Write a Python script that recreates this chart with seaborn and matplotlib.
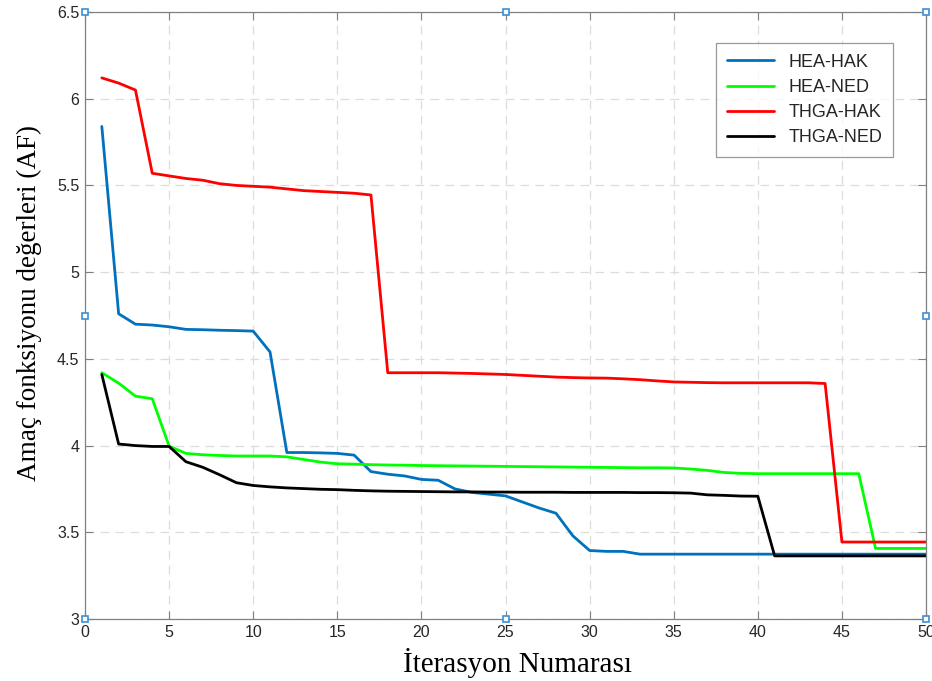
import numpy as np
import pandas as pd
import matplotlib
matplotlib.use("Agg")
import matplotlib.pyplot as plt
import seaborn as sns

# iterations 1..50
iterasyon = list(range(1, 51))

hea_hak = [5.84, 4.76, 4.70, 4.695, 4.685, 4.67, 4.668, 4.665, 4.663, 4.66,
           4.54, 3.96, 3.96, 3.958, 3.955, 3.945, 3.85, 3.835, 3.825, 3.805,
           3.80, 3.75, 3.73, 3.72, 3.71, 3.675, 3.64, 3.61, 3.48, 3.395,
           3.39, 3.39, 3.374, 3.374, 3.374, 3.374, 3.374, 3.374, 3.374, 3.374,
           3.374, 3.374, 3.374, 3.374, 3.374, 3.374, 3.374, 3.374, 3.374, 3.374]

hea_ned = [4.42, 4.36, 4.285, 4.27, 3.997, 3.955, 3.947, 3.943, 3.94, 3.94,
           3.94, 3.935, 3.92, 3.905, 3.895, 3.893, 3.89, 3.888, 3.887, 3.885,
           3.884, 3.883, 3.882, 3.881, 3.88, 3.879, 3.878, 3.877, 3.876, 3.875,
           3.874, 3.873, 3.872, 3.872, 3.871, 3.865, 3.857, 3.845, 3.84, 3.838,
           3.838, 3.838, 3.838, 3.838, 3.838, 3.838, 3.407, 3.407, 3.407, 3.407]

thga_hak = [6.12, 6.09, 6.05, 5.57, 5.555, 5.54, 5.53, 5.51, 5.50, 5.495,
            5.49, 5.48, 5.47, 5.465, 5.46, 5.455, 5.445, 4.42, 4.42, 4.42,
            4.42, 4.418, 4.416, 4.413, 4.41, 4.405, 4.40, 4.395, 4.392, 4.39,
            4.389, 4.385, 4.38, 4.373, 4.367, 4.365, 4.363, 4.362, 4.362, 4.362,
            4.362, 4.362, 4.362, 4.358, 3.444, 3.444, 3.444, 3.444, 3.444, 3.444]

thga_ned = [4.41, 4.009, 4.0, 3.995, 3.995, 3.907, 3.875, 3.832, 3.786, 3.77,
            3.762, 3.756, 3.752, 3.748, 3.746, 3.742, 3.739, 3.737, 3.736, 3.735,
            3.734, 3.733, 3.733, 3.732, 3.732, 3.731, 3.731, 3.731, 3.73, 3.73,
            3.73, 3.73, 3.729, 3.729, 3.728, 3.726, 3.716, 3.713, 3.709, 3.708,
            3.364, 3.364, 3.364, 3.364, 3.364, 3.364, 3.364, 3.364, 3.364, 3.364]

seriler = ["HEA-HAK", "HEA-NED", "THGA-HAK", "THGA-NED"]
renkler = ["#0072BD", "#00FF00", "#FF0000", "#000000"]

df = pd.DataFrame({
    "iter": iterasyon * 4,
    "af": hea_hak + hea_ned + thga_hak + thga_ned,
    "seri": np.repeat(seriler, len(iterasyon)),
})

sns.set_theme(style="white")
plt.rcParams["font.family"] = ["Liberation Sans", "DejaVu Sans"]

fig = plt.figure(figsize=(9.32, 6.81), dpi=100)
ax = fig.add_axes([0.0912, 0.091, 0.9024, 0.8914])

sns.lineplot(data=df, x="iter", y="af", hue="seri", hue_order=seriler,
             palette=renkler, linewidth=2.0, ax=ax)

ax.set_xlim(0, 50)
ax.set_ylim(3, 6.5)
ax.set_xticks(np.arange(0, 51, 5))
ax.set_yticks(np.arange(3, 6.51, 0.5))
ax.set_yticklabels(["3", "3.5", "4", "4.5", "5", "5.5", "6", "6.5"])

ax.grid(True, color="#dcdcdc", linestyle=(0, (7, 5)), linewidth=0.9)
ax.tick_params(direction="in", length=6, width=0.8, color="#808080",
               labelsize=11.5, labelcolor="#262626", top=True, right=True,
               bottom=True, left=True, pad=4)
for s in ax.spines.values():
    s.set_color("#808080")
    s.set_linewidth(0.9)

serif = ["Liberation Serif", "DejaVu Serif"]
ax.set_xlabel("İterasyon Numarası", family=serif, fontsize=21, color="black")
ax.set_ylabel("Amaç fonksiyonu değerleri (AF)", family=serif, fontsize=19.5, color="black")
ax.xaxis.set_label_coords(0.514, -0.048)
ax.yaxis.set_label_coords(-0.051, 0.52)

leg = ax.legend(loc="upper right", bbox_to_anchor=(0.961, 0.949), borderaxespad=0,
                fontsize=13, frameon=True, fancybox=False, edgecolor="#808080",
                handlelength=2.6, borderpad=0.6, labelspacing=0.45)
leg.get_frame().set_linewidth(0.9)
for h in leg.get_lines():
    h.set_linewidth(2.0)

# MATLAB edit-mode selection handles around the axes
hx = [0, 0.5, 1, 0, 1, 0, 0.5, 1]
hy = [1, 1, 1, 0.5, 0.5, 0, 0, 0]
ax.plot(hx, hy, linestyle="none", marker="s", markersize=4.5, mfc="white",
        mec="#3d8fd6", mew=1.2, transform=ax.transAxes, clip_on=False, zorder=10)

fig.savefig("out.png", dpi=100)
